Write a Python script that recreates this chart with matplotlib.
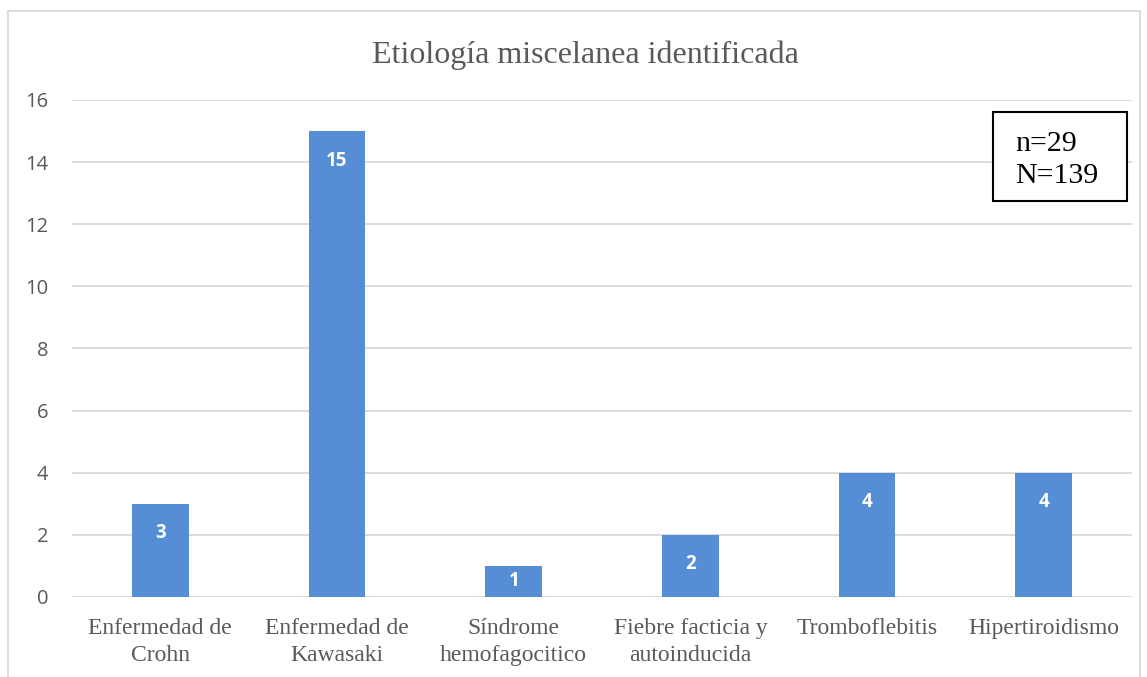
import matplotlib
matplotlib.use("Agg")
import matplotlib.pyplot as plt
from matplotlib.patches import Rectangle

categories = ["Enfermedad de\nCrohn", "Enfermedad de\nKawasaki", "Síndrome\nhemofagocitico",
              "Fiebre facticia y\nautoinducida", "Tromboflebitis", "Hipertiroidismo"]
values = [3, 15, 1, 2, 4, 4]
yticks = [0, 2, 4, 6, 8, 10, 12, 14, 16]
title = "Etiología miscelanea identificada"
box_text = "n=29\nN=139"

BAR = "#558ed5"
GRID = "#d9d9d9"
TXT = "#595959"


def main():
    fig = plt.figure(figsize=(11.47, 6.77), dpi=100)
    ax = fig.add_axes([0.0628, 0.1182, 0.9242, 0.7341])

    x = range(len(categories))
    bars = ax.bar(x, values, width=0.32, color=BAR, zorder=3)
    for b, v in zip(bars, values):
        ax.text(b.get_x() + b.get_width() / 2, v - 0.95 if v > 1 else v / 2, str(v),
                ha="center", va="center", color="white", fontsize=13.5,
                fontweight="bold", family="Open Sans", zorder=4)

    ax.set_xlim(-0.5, len(categories) - 0.5)
    ax.set_ylim(0, 16)
    ax.set_yticks(yticks)
    ax.yaxis.grid(True, color=GRID, lw=1.3, zorder=0)
    ax.set_xticks(list(x))
    ax.set_xticklabels(categories, family="Liberation Serif", fontsize=17, color=TXT,
                       linespacing=1.4)
    for lab in ax.get_yticklabels():
        lab.set_family("Open Sans")
        lab.set_fontsize(14.5)
        lab.set_color(TXT)
    ax.tick_params(length=0, axis="both")
    ax.tick_params(axis="y", pad=17)
    ax.tick_params(axis="x", pad=15)
    for s in ax.spines.values():
        s.set_visible(False)

    fig.text(0.510, 0.919, title, ha="center", va="center", family="Liberation Serif",
             fontsize=23, color=TXT)

    # n / N annotation box
    ax.add_patch(Rectangle((0.869, 0.797), 0.1264, 0.179, transform=ax.transAxes,
                           fc="white", ec="black", lw=1.5, zorder=5))
    ax.text(0.8896, 0.880, box_text, transform=ax.transAxes, ha="left", va="center",
            family="Liberation Serif", fontsize=21.5, color="black", linespacing=1.3,
            zorder=6)

    # outer chart-area border
    fig.patches.append(Rectangle((8 / 1147, -0.01), 1132 / 1147, 1 - 11 / 677 + 0.01,
                                 transform=fig.transFigure, fill=False, ec=GRID, lw=1.3))

    fig.savefig("out.png", dpi=100)
    plt.close(fig)


if __name__ == "__main__":
    main()
